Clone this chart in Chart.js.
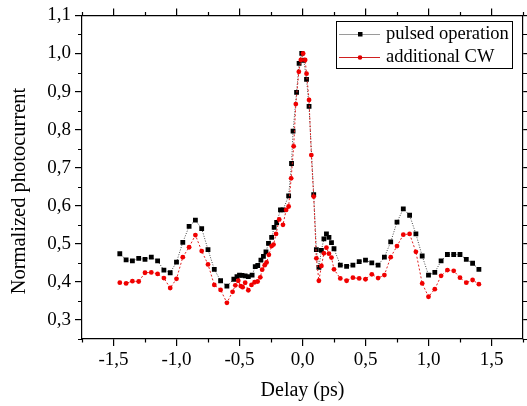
<!DOCTYPE html>
<html><head><meta charset="utf-8">
<script src="https://cdn.jsdelivr.net/npm/chart.js@4.4.1/dist/chart.umd.min.js"></script>
<style>html,body{margin:0;padding:0;background:#fff}#wrap{width:527px;height:406px}</style>
</head><body><div id="wrap"><canvas id="c" width="527" height="406"></canvas></div>
<script>
const seriesNames = ['pulsed operation', 'additional CW'];
const pulsedX = [-1.45,-1.40,-1.35,-1.30,-1.25,-1.20,-1.15,-1.10,-1.05,-1.00,-0.95,-0.90,-0.85,-0.80,-0.75,-0.70,-0.65,-0.60,
  -0.545,-0.52,-0.50,-0.48,-0.455,-0.43,-0.40,-0.375,-0.355,-0.33,-0.31,-0.29,-0.27,-0.245,-0.225,-0.205,-0.175,-0.155,-0.11,-0.087,-0.075,-0.047,-0.027,-0.006,
  0.01,0.032,0.052,0.089,0.11,0.13,0.15,0.17,0.19,0.21,0.23,0.25,
  0.30,0.35,0.40,0.45,0.50,0.55,0.60,0.65,0.70,0.75,0.80,0.85,0.90,0.95,1.00,1.05,1.10,1.15,1.20,1.25,1.30,1.35,1.40];
const pulsedY = [0.474,0.458,0.455,0.462,0.459,0.465,0.455,0.431,0.424,0.452,0.504,0.546,0.562,0.540,0.485,0.433,0.403,0.389,
  0.407,0.414,0.418,0.417,0.416,0.414,0.418,0.440,0.443,0.457,0.467,0.479,0.501,0.517,0.543,0.556,0.589,0.589,0.626,0.711,0.796,0.898,0.974,1.0,
  0.982,0.932,0.861,0.629,0.485,0.438,0.483,0.513,0.526,0.517,0.503,0.487,
  0.444,0.441,0.444,0.453,0.457,0.450,0.444,0.465,0.505,0.557,0.592,0.575,0.526,0.468,0.418,0.425,0.455,0.472,0.472,0.472,0.459,0.449,0.433];
const cwX = [-1.45,-1.40,-1.35,-1.30,-1.25,-1.20,-1.15,-1.10,-1.05,-1.00,-0.95,-0.90,-0.85,-0.80,-0.75,-0.70,-0.65,-0.60,
  -0.555,-0.533,-0.51,-0.49,-0.475,-0.455,-0.43,-0.405,-0.38,-0.356,-0.335,-0.32,-0.30,-0.285,-0.267,-0.245,-0.23,-0.21,-0.185,-0.155,-0.13,-0.11,-0.09,-0.07,-0.053,-0.029,-0.013,
  0.005,0.021,0.032,0.052,0.07,0.089,0.11,0.13,0.15,0.17,0.19,0.21,0.23,0.25,
  0.30,0.35,0.40,0.45,0.50,0.55,0.60,0.65,0.70,0.75,0.80,0.85,0.90,0.95,1.00,1.05,1.10,1.15,1.20,1.25,1.30,1.35,1.40];
const cwY = [0.398,0.396,0.402,0.401,0.424,0.425,0.421,0.410,0.384,0.408,0.465,0.491,0.523,0.481,0.446,0.392,0.379,0.345,
  0.374,0.391,0.403,0.389,0.386,0.398,0.378,0.392,0.399,0.401,0.412,0.432,0.444,0.451,0.471,0.494,0.498,0.526,0.564,0.550,0.589,0.598,0.672,0.756,0.867,0.952,0.983,
  1.0,0.983,0.947,0.878,0.733,0.624,0.462,0.403,0.442,0.475,0.490,0.474,0.464,0.433,
  0.409,0.403,0.411,0.409,0.407,0.420,0.410,0.418,0.465,0.494,0.524,0.526,0.479,0.396,0.361,0.381,0.416,0.431,0.429,0.411,0.398,0.405,0.394];
const xTicks = [-1.5,-1.0,-0.5,0.0,0.5,1.0,1.5];
const yTicks = [0.3,0.4,0.5,0.6,0.7,0.8,0.9,1.0,1.1];
const xMinor = [-1.75,-1.25,-0.75,-0.25,0.25,0.75,1.25,1.75];
const yMinor = [0.25,0.35,0.45,0.55,0.65,0.75,0.85,0.95,1.05];
const xTitle = 'Delay (ps)';
const yTitle = 'Normalized photocurrent';

const FONT = 'Liberation Serif, Times New Roman, serif';
const fmt = v => v.toFixed(1).replace('.', ',');
const pts = (xs, ys) => xs.map((x, i) => ({x: x, y: ys[i]}));

const extras = {
  id: 'extras',
  afterDraw(chart) {
    const ctx = chart.ctx, ca = chart.chartArea;
    const sx = chart.scales.x, sy = chart.scales.y;
    ctx.save();
    ctx.strokeStyle = '#000'; ctx.lineWidth = 1.2;
    ctx.beginPath();
    xMinor.forEach(v => {
      const p = Math.round(sx.getPixelForValue(v)) + 0.5;
      ctx.moveTo(p, ca.bottom); ctx.lineTo(p, ca.bottom + 3.5);
      ctx.moveTo(p, ca.top); ctx.lineTo(p, ca.top - 3.5);
    });
    yMinor.forEach(v => {
      const p = Math.round(sy.getPixelForValue(v)) + 0.5;
      ctx.moveTo(ca.left, p); ctx.lineTo(ca.left - 4, p);
      ctx.moveTo(ca.right, p); ctx.lineTo(ca.right + 4, p);
    });
    ctx.stroke();
    // y title
    ctx.fillStyle = '#000';
    ctx.font = '20.5px ' + FONT;
    ctx.textAlign = 'center'; ctx.textBaseline = 'middle';
    ctx.translate(20, 191); ctx.rotate(-Math.PI / 2);
    ctx.fillText(yTitle, 0, 0);
    ctx.restore();
    // legend
    ctx.save();
    const bx = 336.5, by = 21.5, bw = 176, bh = 47;
    ctx.fillStyle = '#fff'; ctx.fillRect(bx, by, bw, bh);
    ctx.strokeStyle = '#000'; ctx.lineWidth = 1; ctx.strokeRect(bx, by, bw, bh);
    const rows = [
      {y: 34, line: '#9a9a9a', col: '#000', style: 'rect'},
      {y: 57, line: '#d02020', col: '#e00000', style: 'circle'}
    ];
    rows.forEach((r, i) => {
      ctx.strokeStyle = r.line; ctx.lineWidth = 1;
      ctx.beginPath(); ctx.moveTo(339, r.y + 0.5); ctx.lineTo(380, r.y + 0.5); ctx.stroke();
      ctx.fillStyle = r.col;
      if (r.style === 'rect') ctx.fillRect(358, r.y - 2, 4.5, 4.5);
      else { ctx.beginPath(); ctx.arc(360, r.y + 0.5, 2.3, 0, Math.PI * 2); ctx.fill(); }
      ctx.fillStyle = '#000';
      ctx.font = '18.5px ' + FONT;
      ctx.textAlign = 'left'; ctx.textBaseline = 'middle';
      ctx.fillText(seriesNames[i], 386, r.y);
    });
    ctx.restore();
  }
};

const axisBase = (min, max) => ({
  type: 'linear', min: min, max: max,
  grid: {drawOnChartArea: false, drawTicks: true, tickLength: 7, color: '#000', lineWidth: 1.2},
  border: {display: true, color: '#000', width: 1.2}
});

new Chart(document.getElementById('c'), {
  type: 'scatter',
  data: {
    datasets: [
      {
        label: seriesNames[0], data: pts(pulsedX, pulsedY), showLine: true, order: 2,
        borderColor: '#444', borderWidth: 1, borderDash: [1, 1.5],
        pointStyle: 'rect', pointRadius: 3.4, pointBackgroundColor: '#000', pointBorderWidth: 0
      },
      {
        label: seriesNames[1], data: pts(cwX, cwY), showLine: true, order: 1,
        borderColor: '#e02020', borderWidth: 1, borderDash: [2, 2],
        pointStyle: 'circle', pointRadius: 2.4, pointBackgroundColor: '#f00000', pointBorderWidth: 0
      }
    ]
  },
  options: {
    responsive: false, animation: false, devicePixelRatio: 1,
    layout: {padding: 0},
    plugins: {legend: {display: false}, tooltip: {enabled: false}},
    scales: {
      x: Object.assign(axisBase(-1.75, 1.75), {
        position: 'bottom',
        afterBuildTicks: s => { s.ticks = xTicks.map(v => ({value: v})); },
        afterFit: s => { s.height = 67; },
        ticks: {callback: v => fmt(v), font: {family: FONT, size: 19}, color: '#000', padding: 3, maxRotation: 0, autoSkip: false},
        title: {display: true, text: xTitle, font: {family: FONT, size: 20}, color: '#000', padding: {top: 0, bottom: 3}}
      }),
      y: Object.assign(axisBase(0.25, 1.1), {
        position: 'left',
        afterBuildTicks: s => { s.ticks = yTicks.map(v => ({value: v})); },
        afterFit: s => { s.width = 82; },
        ticks: {callback: v => fmt(v), font: {family: FONT, size: 19}, color: '#000', padding: 4, autoSkip: false}
      }),
      x2: Object.assign(axisBase(-1.75, 1.75), {
        position: 'top',
        afterBuildTicks: s => { s.ticks = xTicks.map(v => ({value: v})); },
        afterFit: s => { s.height = 12; },
        ticks: {display: false}
      }),
      y2: Object.assign(axisBase(0.25, 1.1), {
        position: 'right',
        afterBuildTicks: s => { s.ticks = yTicks.map(v => ({value: v})); },
        afterFit: s => { s.width = 3; },
        ticks: {display: false}
      })
    }
  },
  plugins: [extras]
});
</script></body></html>
